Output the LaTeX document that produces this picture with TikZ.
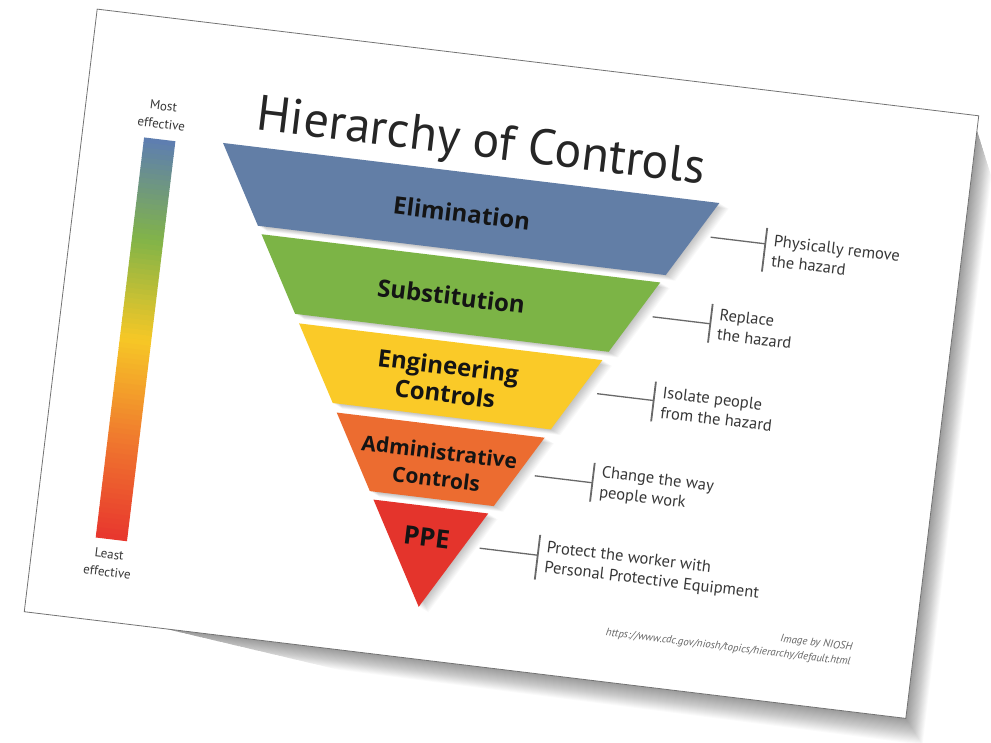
\documentclass[tikz,border=0pt]{standalone}
\usepackage{fontspec}
\setmainfont{PT Sans}
\newfontfamily\bandfont{Open Sans}
\usetikzlibrary{calc}
\definecolor{cBlue}{RGB}{98,126,166}
\definecolor{cGreen}{RGB}{124,180,70}
\definecolor{cYellow}{RGB}{250,202,40}
\definecolor{cOrange}{RGB}{236,108,48}
\definecolor{cRed}{RGB}{228,52,44}
\definecolor{gA}{RGB}{94,126,176}
\definecolor{gB}{RGB}{130,180,72}
\definecolor{gC}{RGB}{246,200,38}
\definecolor{gD}{RGB}{240,122,46}
\definecolor{gE}{RGB}{232,56,46}
\definecolor{txtGray}{RGB}{55,55,55}
\definecolor{lineGray}{RGB}{105,105,105}
\begin{document}
\begin{tikzpicture}[x=1pt,y=-1pt,
  bandlabel/.style={font=\bandfont\bfseries\fontsize{24}{28}\selectfont, text=black!92, align=center, inner sep=0pt},
  note/.style={font=\fontsize{16.5}{20}\selectfont, text=txtGray, align=left, anchor=west, inner sep=0pt},
  sidelabel/.style={font=\fontsize{13}{18}\selectfont, text=txtGray, align=center, inner sep=0pt},
  conn/.style={draw=lineGray, line width=1.3pt},
  barline/.style={draw=lineGray, line width=1.8pt},
]
\fill[white] (0,0) rectangle (991,742);
\useasboundingbox (0,0) rectangle (991,742);
\begin{scope}[rotate around={-6.9:(501.5,363.75)}, transform shape]
  % card shadow
  \foreach \i in {1,...,22}
    \fill[black, opacity=0.02] (200,667.25) -- (945.5,75) -- (945.5+0.9*\i,75+2*\i) -- (945.5+0.9*\i,667.25+1.1*\i) -- (200+8*\i,667.25+0.9*\i) -- cycle;
  % card
  \fill[white] (57.5,60.25) rectangle (945.5,667.25);
  \draw[black!55, line width=0.8pt] (57.5,60.25) rectangle (945.5,667.25);

  % gradient bar
  \foreach \k in {0,...,79}{
    \pgfmathsetmacro{\tt}{\k/79*4}
    \pgfmathtruncatemacro{\ss}{min(floor(\tt),3)}
    \pgfmathsetmacro{\pp}{(\tt-\ss)*100}
    \ifcase\ss \colorlet{gc}{gB!\pp!gA}\or \colorlet{gc}{gC!\pp!gB}\or \colorlet{gc}{gD!\pp!gC}\else \colorlet{gc}{gE!\pp!gD}\fi
    \fill[gc] (119.5,182+\k*5.03) rectangle (151,182+\k*5.03+5.6);
  }
  \node[sidelabel] (most) at (135,157.5) {Most\\effective};
  \node[sidelabel] (least) at (135,609) {Least\\effective};

  % title
  \node[font=\fontsize{50}{54}\selectfont, text=black!85, anchor=base west, inner sep=0pt] (title) at (229,161) {Hierarchy of Controls};

  % band shadows
  \foreach \i in {1,...,10}{
    \begin{scope}[shift={(1.0*\i,0.45*\i)}]
      \fill[black, opacity=0.025] (198.5,178) -- (698.5,178) -- (653.9,256) -- (243.1,256) -- cycle;
      \fill[black, opacity=0.025] (247.7,264) -- (649.3,264) -- (606.4,339) -- (290.6,339) -- cycle;
      \fill[black, opacity=0.025] (295.7,348) -- (601.3,348) -- (558.3,423) -- (338.7,423) -- cycle;
      \fill[black, opacity=0.025] (343.8,432) -- (553.2,432) -- (510.9,506) -- (386.1,506) -- cycle;
      \fill[black, opacity=0.025] (390.7,514) -- (506.3,514) -- (448.5,615) -- cycle;
    \end{scope}
  }

  % bands
  \fill[cBlue] (198.5,178) -- (698.5,178) -- (653.9,256) -- (243.1,256) -- cycle;
  \fill[cGreen] (247.7,264) -- (649.3,264) -- (606.4,339) -- (290.6,339) -- cycle;
  \fill[cYellow] (295.7,348) -- (601.3,348) -- (558.3,423) -- (338.7,423) -- cycle;
  \fill[cOrange] (343.8,432) -- (553.2,432) -- (510.9,506) -- (386.1,506) -- cycle;
  \fill[cRed] (390.7,514) -- (506.3,514) -- (448.5,615) -- cycle;

  \node[bandlabel] (elim) at (444,219) {Elimination};
  \node[bandlabel] (subst) at (443.5,302.5) {Substitution};
  \node[bandlabel] (eng) at (449,386) {Engineering\\Controls};
  \node[bandlabel, font=\bandfont\bfseries\fontsize{21}{27}\selectfont] (adm) at (450.5,472) {Administrative\\Controls};
  \node[bandlabel, font=\bandfont\bfseries\fontsize{25.5}{28}\selectfont] (ppe) at (448,545) {PPE};

  % connectors
  \coordinate (eS) at (694,213);   \coordinate (eB) at (749,213);
  \coordinate (sS) at (646,299);   \coordinate (sB) at (704,299);
  \coordinate (gS) at (600,382);   \coordinate (gB) at (657,382);
  \coordinate (aS) at (548,471);   \coordinate (aB) at (606,471);
  \coordinate (pS) at (502,549.5); \coordinate (pB) at (560.5,549.5);
  \coordinate (eT1) at (749,197);   \coordinate (eT2) at (749,241);
  \coordinate (sT1) at (704,279);   \coordinate (sT2) at (704,318);
  \coordinate (gT1) at (657,363);   \coordinate (gT2) at (657,403);
  \coordinate (aT1) at (606,451);   \coordinate (aT2) at (606,490);
  \coordinate (pT1) at (560.5,529); \coordinate (pT2) at (560.5,574);
  \draw[conn] (eS) -- (eB);  \draw[barline] (eT1) -- (eT2);
  \draw[conn] (sS) -- (sB);  \draw[barline] (sT1) -- (sT2);
  \draw[conn] (gS) -- (gB);  \draw[barline] (gT1) -- (gT2);
  \draw[conn] (aS) -- (aB);  \draw[barline] (aT1) -- (aT2);
  \draw[conn] (pS) -- (pB);  \draw[barline] (pT1) -- (pT2);

  \node[note] (eN) at (757,219) {Physically remove\\the hazard};
  \node[note] (sN) at (712,298.5) {Replace\\the hazard};
  \node[note] (gN) at (665,383) {Isolate people\\from the hazard};
  \node[note] (aN) at (614,470.5) {Change the way\\people work};
  \node[note] (pN) at (568.5,551.5) {Protect the worker with\\Personal Protective Equipment};

  % credit
  \node[font=\itshape\fontsize{10.8}{15}\selectfont, text=black!60, align=right, anchor=east, inner sep=0pt] (credit) at (884,611) {Image by NIOSH\\https://www.cdc.gov/niosh/topics/hierarchy/default.html};
\end{scope}
\end{tikzpicture}
\end{document}
